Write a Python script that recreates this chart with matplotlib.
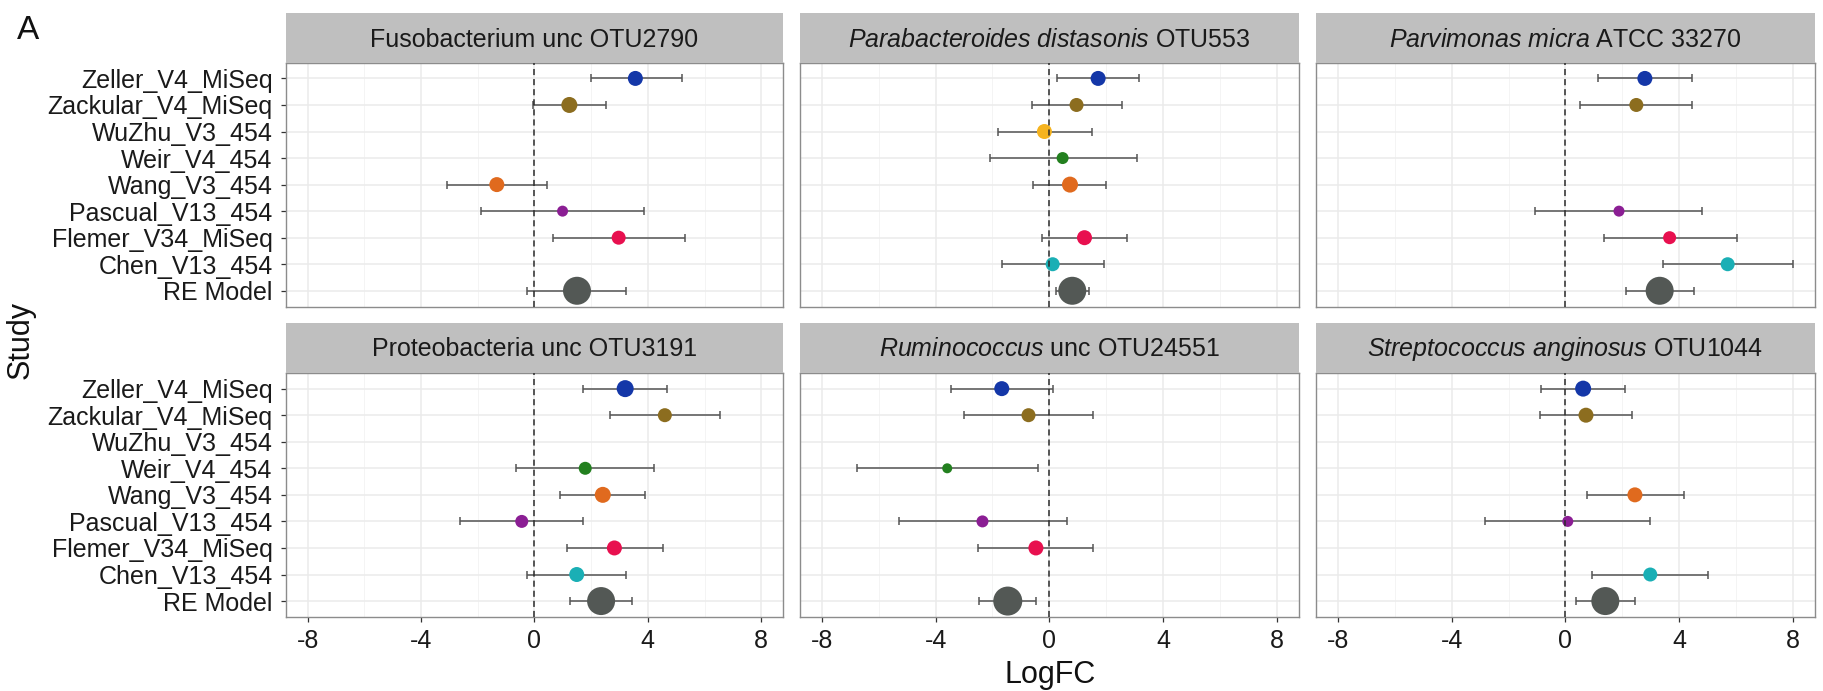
import numpy as np
import matplotlib
matplotlib.use("Agg")
import matplotlib.pyplot as plt
from matplotlib.ticker import FixedLocator

plt.rcParams['font.family'] = ['Liberation Sans', 'DejaVu Sans']
plt.rcParams['mathtext.fontset'] = 'custom'
plt.rcParams['mathtext.rm'] = 'Liberation Sans'
plt.rcParams['mathtext.it'] = 'Liberation Sans:italic'

nan = np.nan

# ---------------- data ----------------
studies = ["Zeller_V4_MiSeq", "Zackular_V4_MiSeq", "WuZhu_V3_454", "Weir_V4_454",
           "Wang_V3_454", "Pascual_V13_454", "Flemer_V34_MiSeq", "Chen_V13_454", "RE Model"]
study_colors = ["#1437A8", "#8C6D1F", "#F5B31F", "#23801F", "#E06A1E",
                "#8B1E94", "#E8104F", "#1AAFB5", "#535855"]

titles = [
    "Fusobacterium unc OTU2790",
    r"$\mathit{Parabacteroides\ distasonis}$ OTU553",
    r"$\mathit{Parvimonas\ micra}$ ATCC 33270",
    "Proteobacteria unc OTU3191",
    r"$\mathit{Ruminococcus}$ unc OTU24551",
    r"$\mathit{Streptococcus\ anginosus}$ OTU1044",
]

# Fusobacterium unc OTU2790
fuso_est = [3.56, 1.23, nan, nan, -1.33, 0.99, 2.97, nan, 1.50]
fuso_lo  = [1.98, -0.07, nan, nan, -3.08, -1.89, 0.67, nan, -0.27]
fuso_hi  = [5.22, 2.54, nan, nan, 0.45, 3.87, 5.30, nan, 3.24]
fuso_w   = [15, 16, nan, nan, 15, 11, 14, nan, 28]

# Parabacteroides distasonis OTU553
para_est = [1.72, 0.96, -0.17, 0.47, 0.73, nan, 1.24, 0.12, 0.81]
para_lo  = [0.29, -0.62, -1.82, -2.10, -0.56, nan, -0.27, -1.65, 0.24]
para_hi  = [3.17, 2.57, 1.52, 3.09, 2.01, nan, 2.75, 1.93, 1.40]
para_w   = [15, 14, 15, 12, 16, nan, 15, 14, 28]

# Parvimonas micra ATCC 33270
parv_est = [2.79, 2.49, nan, nan, nan, 1.88, 3.66, 5.70, 3.31]
parv_lo  = [1.15, 0.52, nan, nan, nan, -1.08, 1.34, 3.43, 2.11]
parv_hi  = [4.46, 4.46, nan, nan, nan, 4.81, 6.03, 8.00, 4.51]
parv_w   = [15, 14, nan, nan, nan, 11, 13, 14, 28]

# Proteobacteria unc OTU3191
prot_est = [3.20, 4.60, nan, 1.79, 2.41, -0.45, 2.82, 1.49, 2.35]
prot_lo  = [1.72, 2.68, nan, -0.65, 0.91, -2.64, 1.16, -0.25, 1.27]
prot_hi  = [4.67, 6.56, nan, 4.23, 3.90, 1.71, 4.52, 3.23, 3.45]
prot_w   = [17, 14, nan, 13, 16, 13, 15, 15, 28]

# Ruminococcus unc OTU24551
rumi_est = [-1.67, -0.73, nan, -3.59, nan, -2.35, -0.47, nan, -1.46]
rumi_lo  = [-3.47, -3.00, nan, -6.76, nan, -5.28, -2.49, nan, -2.46]
rumi_hi  = [0.12, 1.55, nan, -0.40, nan, 0.61, 1.55, nan, -0.45]
rumi_w   = [15, 14, nan, 10, nan, 12, 15, nan, 29]

# Streptococcus anginosus OTU1044
strep_est = [0.62, 0.72, nan, nan, 2.44, 0.08, nan, 2.98, 1.40]
strep_lo  = [-0.85, -0.90, nan, nan, 0.74, -2.82, nan, 0.94, 0.36]
strep_hi  = [2.09, 2.35, nan, nan, 4.17, 2.97, nan, 5.02, 2.44]
strep_w   = [16, 15, nan, nan, 15, 11, nan, 14, 28]

panels = [
    (fuso_est, fuso_lo, fuso_hi, fuso_w),
    (para_est, para_lo, para_hi, para_w),
    (parv_est, parv_lo, parv_hi, parv_w),
    (prot_est, prot_lo, prot_hi, prot_w),
    (rumi_est, rumi_lo, rumi_hi, rumi_w),
    (strep_est, strep_lo, strep_hi, strep_w),
]

xticks = [-8, -4, 0, 4, 8]
xtick_labels = ["-8", "-4", "0", "4", "8"]
xminor = [-6, -2, 2, 6]

# ---------------- layout ----------------
W, H = 1824, 691
fig = plt.figure(figsize=(W / 100, H / 100), dpi=100)

cols = [(286, 783), (800, 1298.5), (1316, 1815)]
panel_rows = [(62.5, 306.7), (372.7, 617)]
strip_rows = [(13.3, 62.5), (322.7, 372.7)]

def fx(x):
    return x / W

def fy(y):
    return 1 - y / H

n = len(studies)
ypos = np.arange(n, 0, -1)  # Zeller at top

for i, (est, lo, hi, w) in enumerate(panels):
    r, c = divmod(i, 3)
    x0, x1 = cols[c]
    t0, b0 = panel_rows[r]
    ax = fig.add_axes([fx(x0), fy(b0), fx(x1) - fx(x0), fy(t0) - fy(b0)])
    est = np.array(est, float); lo = np.array(lo, float); hi = np.array(hi, float)
    w = np.array(w, float)
    ok = ~np.isnan(est)
    ax.set_xlim(-8.77, 8.77)
    ax.set_ylim(0.4, n + 0.6)
    ax.set_axisbelow(True)
    ax.xaxis.set_major_locator(FixedLocator(xticks))
    ax.xaxis.set_minor_locator(FixedLocator(xminor))
    ax.set_yticks(ypos)
    ax.grid(which='major', color='#EBEBEB', lw=1.1)
    ax.grid(which='minor', axis='x', color='#F2F2F2', lw=0.6)
    ax.tick_params(which='minor', length=0)
    ax.tick_params(which='major', length=3.6, width=0.9, color='#333333',
                   labelsize=18, labelcolor='#1a1a1a')
    ax.tick_params(axis='x', pad=5)
    ax.tick_params(axis='y', pad=6)
    if c == 0:
        ax.set_yticklabels(studies)
    else:
        ax.set_yticklabels([])
        ax.tick_params(axis='y', length=0)
    if r == 1:
        ax.set_xticklabels(xtick_labels)
    else:
        ax.set_xticklabels([])
        ax.tick_params(axis='x', length=0)
    for sp in ax.spines.values():
        sp.set_color('#8c8c8c')
        sp.set_linewidth(1.0)

    ax.errorbar(est[ok], ypos[ok], xerr=[est[ok] - lo[ok], hi[ok] - est[ok]],
                fmt='none', ecolor='#555555', elinewidth=1.1, capsize=2.9,
                capthick=1.1, zorder=2)
    cols_ok = [study_colors[k] for k in range(n) if ok[k]]
    ax.scatter(est[ok], ypos[ok], s=(w[ok] * 0.72) ** 2, c=cols_ok,
               edgecolors='none', zorder=3)
    ax.axvline(0, color='#2b2b2b', lw=1.1, dashes=(4, 2.6), zorder=4)

    # strip
    s0, s1 = strip_rows[r]
    sax = fig.add_axes([fx(x0), fy(s1), fx(x1) - fx(x0), fy(s0) - fy(s1)])
    sax.set_facecolor('#BFBFBF')
    sax.set_xticks([]); sax.set_yticks([])
    for sp in sax.spines.values():
        sp.set_visible(False)
    fig.text(fx((x0 + x1) / 2), fy(s0 + 33.5), titles[i], ha='center',
             va='baseline', fontsize=18, color='#1a1a1a')

fig.text(fx(17), fy(39), "A", fontsize=24, ha='left', va='baseline', color='#111111')
fig.text(fx(21), fy(340), "Study", rotation=90, fontsize=22, ha='center',
         va='center', color='#111111')
fig.text(fx(1050), fy(675), "LogFC", fontsize=22, ha='center', va='center',
         color='#111111')

fig.savefig("out.png", dpi=100)
